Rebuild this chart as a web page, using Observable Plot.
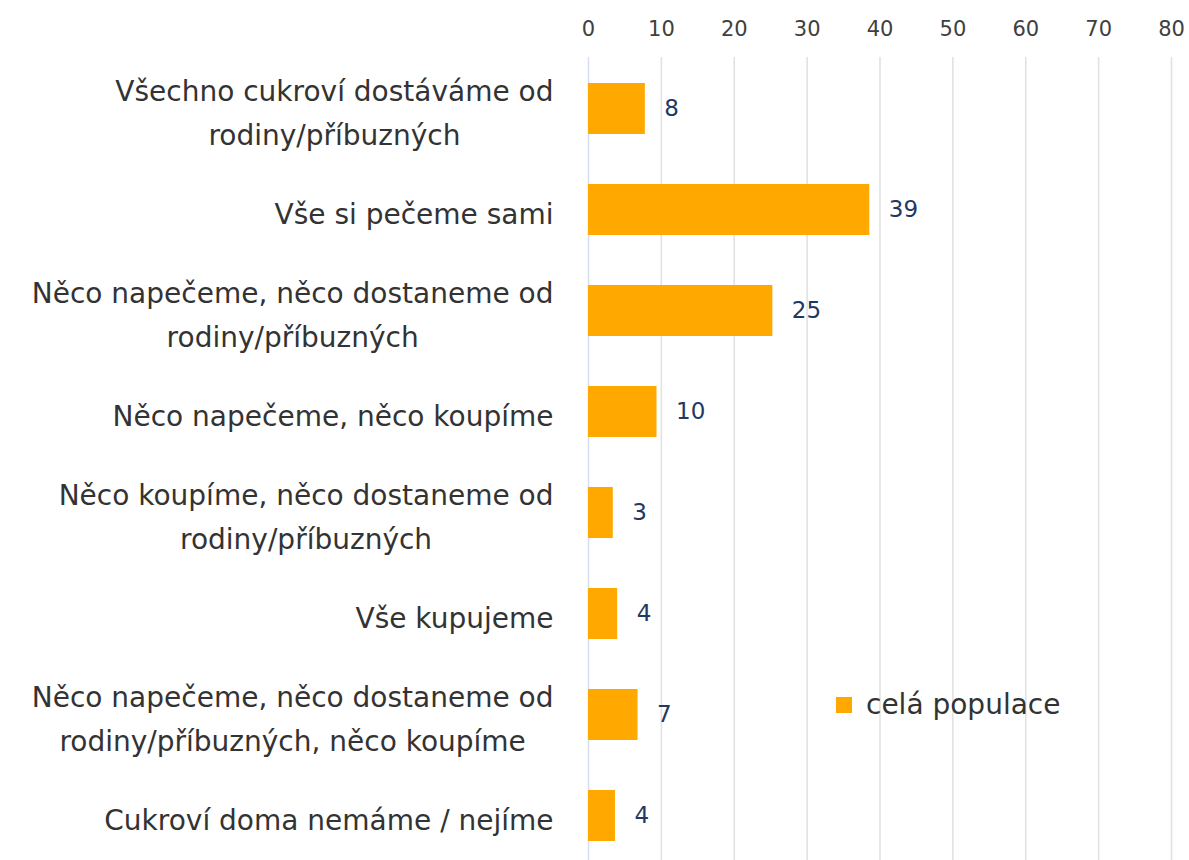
<!DOCTYPE html>
<html>
<head>
<meta charset="utf-8">
<script src="https://cdn.jsdelivr.net/npm/d3@7"></script>
<script src="https://cdn.jsdelivr.net/npm/@observablehq/plot@0.6"></script>
<style>
  html, body { margin: 0; padding: 0; background: #fff; }
  #wrap { position: relative; width: 1189px; height: 860px; overflow: hidden; }
  #legend { position: absolute; left: 836px; top: 688px; display: flex; align-items: center;
    font-family: "Comic Sans MS", "DejaVu Sans", sans-serif; font-size: 28px; color: #333; }
  #legend .sw { width: 16px; height: 16px; background: #ffa800; margin-right: 14px; }
</style>
</head>
<body>
<div id="wrap"><div id="chart"></div><div id="legend"><span class="sw"></span><span id="legtext"></span></div></div>
<script>
const categories = [
  "Všechno cukroví dostáváme od\nrodiny/příbuzných",
  "Vše si pečeme sami",
  "Něco napečeme, něco dostaneme od\nrodiny/příbuzných",
  "Něco napečeme, něco koupíme",
  "Něco koupíme, něco dostaneme od\nrodiny/příbuzných",
  "Vše kupujeme",
  "Něco napečeme, něco dostaneme od\nrodiny/příbuzných, něco koupíme",
  "Cukroví doma nemáme / nejíme"
];
const values = [7.8, 38.6, 25.3, 9.4, 3.4, 4.0, 6.8, 3.7];
const valueLabels = ["8", "39", "25", "10", "3", "4", "7", "4"];
const xTicks = [0, 10, 20, 30, 40, 50, 60, 70, 80];
const seriesName = "celá populace";

const data = categories.map((c, i) => ({category: c, value: values[i], label: valueLabels[i]}));
const font = '"Comic Sans MS", "DejaVu Sans", sans-serif';

const chart = Plot.plot({
  width: 1189,
  height: 860,
  marginLeft: 588,
  marginRight: 18,
  marginTop: 57,
  marginBottom: 0,
  style: {fontFamily: font, background: "#fff"},
  x: {domain: [0, 80], axis: null, label: null},
  y: {domain: categories, range: [57.5, 865.5], paddingInner: 0.5, paddingOuter: 0.25, axis: null, label: null},
  marks: [
    Plot.ruleX(xTicks.filter(d => d > 0), {stroke: "#e2e2e2", strokeWidth: 1.6}),
    Plot.ruleX([0], {stroke: "#d5e1f3", strokeWidth: 1.6}),
    Plot.axisX(xTicks, {anchor: "top", label: null, tickSize: 0, tickPadding: 22, fontSize: 21, fill: "#404040", tickFormat: d => String(d)}),
    Plot.axisY({anchor: "left", label: null, tickSize: 0, tickPadding: 35, fontSize: 28, fill: "#333", lineHeight: 1.57, textAnchor: "middle"}),
    Plot.barX(data, {x: "value", y: "category", fill: "#ffa800"}),
    Plot.text(data, {x: "value", y: "category", text: "label", textAnchor: "start", dx: 19, fontSize: 23, fill: "#1f3864"})
  ]
});
document.getElementById("chart").appendChild(chart);
document.getElementById("legtext").textContent = seriesName;
// right-align each label block while centring its lines
chart.querySelectorAll("g[aria-label]").forEach(g => {
  if (!/y-axis tick label/.test(g.getAttribute("aria-label"))) return;
  g.querySelectorAll(":scope > text").forEach(t => {
    const w = t.getBBox().width;
    const prev = t.getAttribute("transform") || "";
    t.setAttribute("transform", prev + ` translate(${-w / 2},0)`);
  });
});
</script>
</body>
</html>
